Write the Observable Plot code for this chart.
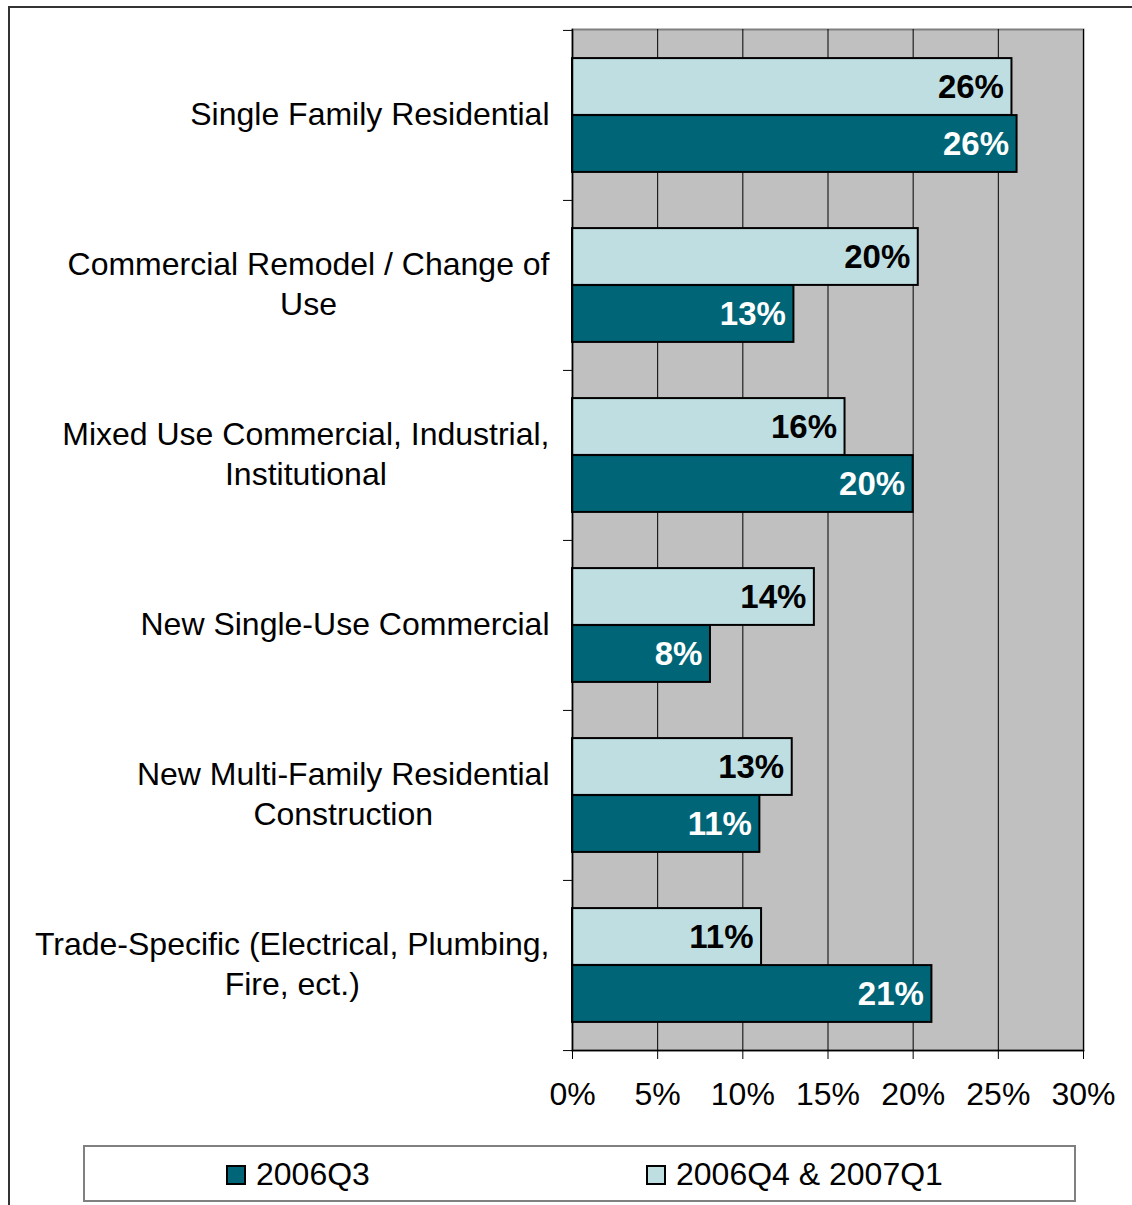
<!DOCTYPE html>
<html>
<head>
<meta charset="utf-8">
<script src="https://cdn.jsdelivr.net/npm/d3@7"></script>
<script src="https://cdn.jsdelivr.net/npm/@observablehq/plot@0.6"></script>
<style>
  html, body { margin: 0; padding: 0; background: #fff; }
  #wrap { position: relative; width: 1132px; height: 1205px; overflow: hidden; font-family: "Liberation Sans", Arial, sans-serif; }
  #border { position: absolute; left: 8px; top: 6px; width: 1300px; height: 1300px; border-top: 2px solid #333; border-left: 2px solid #333; box-sizing: border-box; }
  #chart { position: absolute; left: 0; top: 0; }
  #legend { position: absolute; left: 83px; top: 1145px; width: 993px; height: 57px; border: 2px solid #808080; box-sizing: border-box; background: #fff; }
  .item { position: absolute; top: 1px; height: 53px; display: flex; align-items: center; font-size: 32px; color: #000; }
  .sw { width: 16px; height: 16px; border: 2px solid #000; margin-right: 10px; }
</style>
</head>
<body>
<div id="wrap">
  <div id="border"></div>
  <div id="chart"></div>
  <div id="legend"></div>
</div>
<script>
// ---- data ----
const categories = [
  "Single Family Residential",
  "Commercial Remodel / Change of Use",
  "Mixed Use Commercial, Industrial, Institutional",
  "New Single-Use Commercial",
  "New Multi-Family Residential Construction",
  "Trade-Specific (Electrical, Plumbing, Fire, ect.)"
];
const categoryLabels = [
  "Single Family Residential",
  "Commercial Remodel / Change of\nUse",
  "Mixed Use Commercial, Industrial,\nInstitutional",
  "New Single-Use Commercial",
  "New Multi-Family Residential\nConstruction",
  "Trade-Specific (Electrical, Plumbing,\nFire, ect.)"
];
const seriesNames = ["2006Q3", "2006Q4 & 2007Q1"];
const values2006Q3 = [26.1, 13.0, 20.0, 8.1, 11.0, 21.1];
const values2006Q4_2007Q1 = [25.8, 20.3, 16.0, 14.2, 12.9, 11.1];
const xTicks = [0, 5, 10, 15, 20, 25, 30];
const seriesColors = ["#006677", "#BFDEE2"];

// ---- build rows ----
const rowsDark = categories.map((c, i) => ({category: c, series: seriesNames[0], value: values2006Q3[i]}));
const rowsLight = categories.map((c, i) => ({category: c, series: seriesNames[1], value: values2006Q4_2007Q1[i]}));
const labelRows = categories.map((c, i) => ({category: c, label: categoryLabels[i]}));

// ---- layout ----
const W = 1132, H = 1130, mt = 29, mb = 80, ml = 572, mr = 49;
const band = (H - mt - mb) / categories.length;
const barH = 57;
const gap = (band - 2 * barH) / 2;
const fmt = d => Math.round(d) + "%";

const chart = Plot.plot({
  width: W, height: H,
  marginTop: mt, marginBottom: mb, marginLeft: ml, marginRight: mr,
  style: {fontFamily: "'Liberation Sans', Arial, sans-serif", fontSize: "32px", color: "#000", background: "transparent"},
  x: {domain: [0, 30], label: null},
  y: {domain: categories, padding: 0, label: null},
  marks: [
    Plot.frame({fill: "#C0C0C0", stroke: "#808080", strokeWidth: 2}),
    Plot.gridX({ticks: xTicks, stroke: "#000", strokeOpacity: 1, strokeWidth: 1}),
    Plot.barX(rowsLight, {x: "value", y: "category", fill: seriesColors[1], stroke: "#000", strokeWidth: 2, insetTop: gap, insetBottom: band - gap - barH}),
    Plot.barX(rowsDark, {x: "value", y: "category", fill: seriesColors[0], stroke: "#000", strokeWidth: 2, insetTop: gap + barH, insetBottom: gap}),
    Plot.text(rowsLight, {x: "value", y: "category", text: d => fmt(d.value), dy: -barH / 2, dx: -8, textAnchor: "end", fontWeight: "bold", fontSize: 33, fill: "#000"}),
    Plot.text(rowsDark, {x: "value", y: "category", text: d => fmt(d.value), dy: barH / 2, dx: -8, textAnchor: "end", fontWeight: "bold", fontSize: 33, fill: "#fff"}),
    Plot.frame({anchor: "left", stroke: "#000", strokeWidth: 1.5}),
    Plot.frame({anchor: "bottom", stroke: "#000", strokeWidth: 1.5}),
    Plot.axisX({ticks: xTicks, tickSize: 9, tickPadding: 23, tickFormat: d => d + "%", stroke: "#000", fill: "#000", fontSize: 32, label: null}),
    Plot.axisY({tickSize: 9, tickFormat: () => "", dy: -band / 2, stroke: "#000", label: null}),
    Plot.axisY({ticks: [categories[categories.length - 1]], tickSize: 9, tickFormat: () => "", dy: band / 2, stroke: "#000", label: null}),
    Plot.text(labelRows, {y: "category", text: "label", frameAnchor: "left", dx: -23, dy: -3, textAnchor: "end", lineAnchor: "middle", lineHeight: 1.25, fontSize: 32, fill: "#000", className: "cat-labels"})
  ]
});
document.getElementById("chart").appendChild(chart);

// center-align the lines of multi-line category labels (Excel style)
chart.querySelectorAll(".cat-labels text").forEach(t => {
  const spans = t.querySelectorAll("tspan");
  if (spans.length < 2) return;
  let maxW = 0;
  spans.forEach(s => { maxW = Math.max(maxW, s.getComputedTextLength()); });
  t.setAttribute("text-anchor", "middle");
  spans.forEach(s => s.setAttribute("x", -maxW / 2));
});

// ---- legend ----
const legend = document.getElementById("legend");
const legendLeft = [141, 561];
seriesNames.forEach((name, i) => {
  const item = document.createElement("div");
  item.className = "item";
  item.style.left = legendLeft[i] + "px";
  const sw = document.createElement("div");
  sw.className = "sw";
  sw.style.background = seriesColors[i];
  const lab = document.createElement("span");
  lab.textContent = name;
  item.appendChild(sw);
  item.appendChild(lab);
  legend.appendChild(item);
});
</script>
</body>
</html>
